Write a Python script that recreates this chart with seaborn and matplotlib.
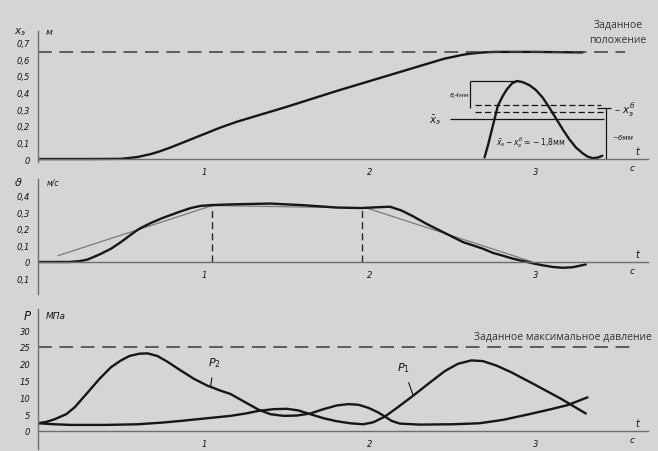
import numpy as np
import pandas as pd
import matplotlib
matplotlib.use('Agg')
import matplotlib.pyplot as plt
import seaborn as sns

# ---------------- data ----------------
# top panel: rod position x_э, м
t_pos = [0, 0.3, 0.5, 0.6, 0.68, 0.73, 0.8, 0.9, 1.0, 1.1, 1.2, 1.5, 1.8, 2.0, 2.2, 2.4, 2.45,
         2.5, 2.55, 2.6, 2.68, 2.75, 3.0, 3.28]
x_pos = [0, 0, 0.001, 0.012, 0.03, 0.045, 0.07, 0.11, 0.15, 0.19, 0.225, 0.315, 0.41, 0.47, 0.53,
         0.59, 0.605, 0.615, 0.626, 0.634, 0.642, 0.645, 0.645, 0.642]
x_set = 0.645  # заданное положение

# magnified detail of the stop (inset curve, drawn in the top panel)
t_det = [2.69, 2.71, 2.73, 2.75, 2.77, 2.80, 2.825, 2.855, 2.885, 2.92, 2.96, 3.0, 3.04, 3.08,
         3.12, 3.16, 3.2, 3.24, 3.28, 3.31, 3.34, 3.37, 3.40]
x_det = [0.01, 0.08, 0.16, 0.24, 0.32, 0.38, 0.42, 0.455, 0.47, 0.463, 0.445, 0.415, 0.37, 0.31,
         0.245, 0.18, 0.12, 0.07, 0.035, 0.015, 0.005, 0.008, 0.02]
det_peak = 0.47
det_dash = [0.325, 0.283]
det_mean = 0.24
det_base = 0.307

# middle panel: velocity, м/с
t_vel = [0, 0.19, 0.25, 0.3, 0.37, 0.44, 0.5, 0.56, 0.61, 0.68, 0.75, 0.86, 0.92, 0.98, 1.05,
         1.2, 1.4, 1.6, 1.8, 1.95, 2.05, 2.12, 2.19, 2.26, 2.34, 2.42, 2.5, 2.56, 2.62, 2.68,
         2.74, 2.8, 2.86, 2.92, 2.98, 3.04, 3.1, 3.16, 3.22, 3.3]
vel = [0, 0, 0.005, 0.015, 0.045, 0.08, 0.12, 0.165, 0.2, 0.235, 0.265, 0.305, 0.325, 0.338, 0.343,
       0.348, 0.352, 0.342, 0.328, 0.325, 0.33, 0.333, 0.31, 0.275, 0.23, 0.19, 0.15, 0.12, 0.1, 0.08,
       0.055, 0.038, 0.02, 0.006, -0.008, -0.02, -0.03, -0.035, -0.032, -0.015]
t_trap = [0.12, 1.05, 1.98, 2.98]
v_trap = [0.038, 0.34, 0.325, 0.0]
t_mark = [1.05, 1.95]
v_mark = [0.34, 0.325]

# bottom panel: pressures, МПа
t_p1 = [0, 0.1, 0.2, 0.4, 0.6, 0.75, 0.86, 1.0, 1.16, 1.25, 1.33, 1.42, 1.5, 1.57, 1.64, 1.72,
        1.8, 1.88, 1.96, 2.02, 2.09, 2.16, 2.26, 2.35, 2.45, 2.53, 2.61, 2.68, 2.76, 2.85, 3.0,
        3.15, 3.3]
p1 = [2.3, 2.0, 1.8, 1.8, 2.0, 2.5, 3.0, 3.7, 4.5, 5.2, 6.0, 6.5, 6.6, 6.1, 5.0, 3.8,
      2.9, 2.3, 2.0, 2.6, 4.3, 6.8, 10.5, 14, 17.8, 20, 21, 20.8, 19.5, 17.5, 13.6,
      9.6, 5.2]
t_p2 = [0, 0.05, 0.1, 0.17, 0.22, 0.3, 0.37, 0.44, 0.5, 0.55, 0.61, 0.66, 0.72, 0.78, 0.86, 0.94,
        1.02, 1.1, 1.16, 1.25, 1.33, 1.4, 1.48, 1.56, 1.64, 1.72, 1.8, 1.87, 1.93, 1.99, 2.05,
        2.09, 2.13, 2.18, 2.3, 2.5, 2.66, 2.8, 2.95, 3.1, 3.19, 3.31]
p2 = [2.3, 2.7, 3.5, 5.0, 7.0, 11.5, 15.5, 19, 21, 22.3, 23, 23.1, 22.3, 20.6, 18, 15.5,
      13.5, 12, 11, 8.5, 6.3, 5.0, 4.5, 4.6, 5.2, 6.5, 7.6, 8.0, 7.8, 6.9, 5.5,
      4.3, 3.0, 2.2, 1.9, 2.0, 2.3, 3.3, 4.9, 6.6, 7.7, 10]
p_max = 25

t_ticks = [1, 2, 3]

# ---------------- style ----------------
BG = '#d5d5d5'
INK = '#161616'
AXC = '#6e6e6e'
sns.set_theme(style='white', rc={'figure.facecolor': BG, 'axes.facecolor': BG})
plt.rcParams['font.family'] = ['DejaVu Sans']

W, H = 658, 452
T_MAX = 610 / 166

fig = plt.figure(figsize=(6.58, 4.52), dpi=100)


def px_axes(top, bottom):
    return fig.add_axes([38 / W, 1 - bottom / H, 610 / W, (bottom - top) / H])


def style_axis(ax, ylim, yticks, ylabels):
    ax.set_xlim(0, T_MAX)
    ax.set_ylim(*ylim)
    ax.set_facecolor(BG)
    for s in ['top', 'right']:
        ax.spines[s].set_visible(False)
    ax.spines['bottom'].set_position(('data', 0))
    for s in ['left', 'bottom']:
        ax.spines[s].set_color(AXC)
        ax.spines[s].set_linewidth(1.0)
    ax.set_xticks(t_ticks)
    ax.set_xticklabels([str(t) for t in t_ticks], fontstyle='italic', fontsize=6, color=INK)
    ax.set_yticks(yticks)
    ax.set_yticklabels(ylabels, fontstyle='italic', fontsize=6, color=INK)
    ax.tick_params(axis='both', length=2.5, width=0.8, colors=AXC, labelcolor=INK, pad=3)
    ax.set_xlabel('')
    ax.set_ylabel('')
    ax.annotate('t', xy=(3.61, 0), xytext=(0, 2), textcoords='offset points',
                ha='center', va='bottom', fontsize=7, fontstyle='italic', color=INK)
    ax.annotate('c', xy=(3.58, 0), xytext=(0, -3), textcoords='offset points',
                ha='center', va='top', fontsize=6.5, fontstyle='italic', color=INK)


line_kw = dict(color=INK, linewidth=1.7, sort=False, legend=False)
thin = dict(color=INK, linewidth=0.9)

# ---- panel 1: position ----
ax1 = px_axes(32, 163)
sns.lineplot(data=pd.DataFrame({'t': t_pos, 'x': x_pos}), x='t', y='x', ax=ax1, **line_kw)
sns.lineplot(data=pd.DataFrame({'t': t_det, 'x': x_det}), x='t', y='x', ax=ax1, **line_kw)
ax1.axhline(x_set, xmax=(625 - 38) / 610, color='#3a3a3a', lw=1.1, dashes=(9, 5))
# bracket and reference lines of the detail
ax1.hlines(det_peak, 2.60, 2.885, **thin)
ax1.vlines(2.60, det_base, det_peak, **thin)
ax1.hlines(det_dash, 2.63, [3.39, 3.41], colors=INK, linewidth=0.9, linestyles=(0, (5, 2.5)))
ax1.hlines(det_mean, 2.48, 3.41, **thin)
ax1.vlines(3.42, 0, det_base, **thin)
ax1.hlines(det_base, 3.37, 3.45, **thin)
ax1.text(2.54, 0.39, '8,4мм', fontsize=4.5, fontstyle='italic', ha='center', va='center', color=INK)
ax1.text(2.39, det_mean, r'$\bar{x}_э$', fontsize=7.5, ha='center', va='center', color=INK)
ax1.text(3.47, 0.30, r'– $x_э^б$', fontsize=7.5, ha='left', va='center', color=INK)
ax1.text(3.46, 0.13, '~6мм', fontsize=5, fontstyle='italic', ha='left', va='center', color=INK)
ax1.text(2.97, 0.105, r'$\bar{x}_э - x_э^б \approx -1{,}8$мм', fontsize=5.5,
         ha='center', va='center', color=INK)
style_axis(ax1, (-0.018, 0.771), [0, 0.1, 0.2, 0.3, 0.4, 0.5, 0.6, 0.7],
           ['0', '0,1', '0,2', '0,3', '0,4', '0,5', '0,6', '0,7'])
ax1.text(-0.03, 1.0, r'$x_э$', transform=ax1.transAxes, ha='center', va='center', fontsize=7.5, color=INK)
ax1.text(0.018, 1.0, 'м', transform=ax1.transAxes, ha='center', va='center', fontsize=6.5,
         fontstyle='italic', color=INK)

# ---- panel 2: velocity ----
ax2 = px_axes(180, 295)
sns.lineplot(data=pd.DataFrame({'t': t_trap, 'v': v_trap}), x='t', y='v', ax=ax2,
             color='#7a7a7a', linewidth=0.9, sort=False, legend=False)
sns.lineplot(data=pd.DataFrame({'t': t_vel, 'v': vel}), x='t', y='v', ax=ax2, **line_kw)
ax2.vlines(t_mark, 0, v_mark, colors='#2a2a2a', linewidth=1.0, linestyles=(0, (5, 3)))
style_axis(ax2, (-0.193, 0.5), [-0.1, 0, 0.1, 0.2, 0.3, 0.4],
           ['0,1', '0', '0,1', '0,2', '0,3', '0,4'])
ax2.text(-0.032, 0.975, 'ϑ', transform=ax2.transAxes, ha='center', va='center', fontsize=8,
         fontstyle='italic', color=INK)
ax2.text(0.025, 0.975, 'м/с', transform=ax2.transAxes, ha='center', va='center', fontsize=5.5,
         fontstyle='italic', color=INK)

# ---- panel 3: pressures ----
ax3 = px_axes(310, 450)
sns.lineplot(data=pd.DataFrame({'t': t_p1, 'p': p1}), x='t', y='p', ax=ax3, **line_kw)
sns.lineplot(data=pd.DataFrame({'t': t_p2, 'p': p2}), x='t', y='p', ax=ax3, **line_kw)
ax3.axhline(p_max, xmax=(635 - 38) / 610, color='#3a3a3a', lw=1.1, dashes=(9, 5))
ax3.annotate(r'$P_2$', xy=(1.04, 13.2), xytext=(1.06, 20.5), ha='center', va='center',
             fontsize=8, color=INK, arrowprops=dict(arrowstyle='-', color=INK, lw=0.8, shrinkA=4, shrinkB=0))
ax3.annotate(r'$P_1$', xy=(2.26, 10.6), xytext=(2.2, 19), ha='center', va='center',
             fontsize=8, color=INK, arrowprops=dict(arrowstyle='-', color=INK, lw=0.8, shrinkA=4, shrinkB=0))
style_axis(ax3, (-5.36, 36.3), [0, 5, 10, 15, 20, 25, 30],
           ['0', '5', '10', '15', '20', '25', '30'])
ax3.text(-0.017, 0.955, 'P', transform=ax3.transAxes, ha='center', va='center', fontsize=8.5,
         fontstyle='italic', color=INK)
ax3.text(0.012, 0.955, 'МПа', transform=ax3.transAxes, ha='left', va='center', fontsize=6.5,
         fontstyle='italic', color=INK)

# ---- printed captions ----
fig.text(618 / W, 1 - 33 / H, 'Заданное\nположение', ha='center', va='center', fontsize=7.5,
         family='Open Sans', color='#333333', linespacing=1.45, multialignment='center')
fig.text(563 / W, 1 - 337 / H, 'Заданное максимальное давление', ha='center', va='center',
         fontsize=7.5, family='Open Sans', color='#333333')

fig.savefig('out.png', dpi=100, facecolor=BG)
